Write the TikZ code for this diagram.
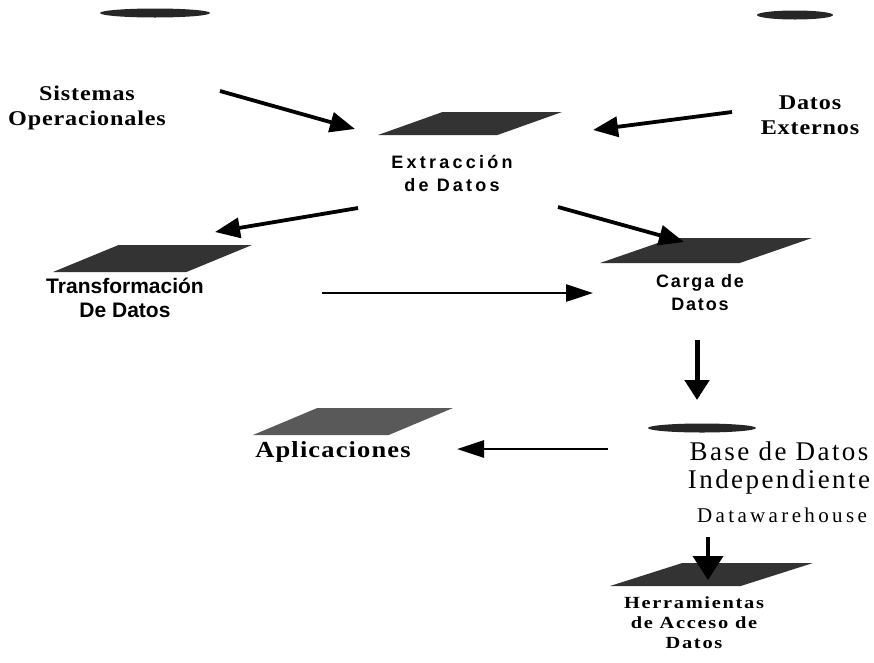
\documentclass[tikz,border=0pt]{standalone}
\usepackage{fontspec}
\setmainfont{Liberation Serif}
\newfontfamily\arialf{Liberation Sans}
\usetikzlibrary{shapes.geometric,arrows.meta}
\newcommand\lsp[1]{\addfontfeature{LetterSpace=#1}}
\newcommand\fst[1]{\addfontfeature{FakeStretch=#1}}
\begin{document}
\begin{tikzpicture}[x=1pt,y=-1pt,
  para/.style={trapezium, trapezium stretches=true, fill=black!80, inner sep=1pt, draw=none},
  blob/.style={ellipse, fill=black!85, inner sep=1pt, minimum height=9pt},
  arr/.style={line width=3.8pt, -{Triangle[length=25pt,width=20pt]}},
  arrthin/.style={line width=2.8pt, -{Triangle[length=27pt,width=17pt]}},
  arrdown/.style={line width=5pt, -{Triangle[length=20pt,width=24pt]}},
  sanslab/.style={align=center, inner sep=0pt, anchor=base},
  serlab/.style={font=\bfseries\fontsize{21}{25}\selectfont\fst{1.15}\lsp{4}, align=center, inner sep=0pt, anchor=base},
]
\useasboundingbox (0,0) rectangle (874,662);

% blobs
\node[blob, minimum width=110pt] (b1) at (155,13) {};
\node[blob, minimum width=76pt] (b2) at (795,15) {};
\node[blob, minimum width=108pt] (b3) at (702,428) {};

% parallelograms
\node[para, trapezium left angle=40.4, trapezium right angle=139.6, minimum width=184pt, minimum height=23pt] (ext) at (470,123.5) {};
\node[para, trapezium left angle=46, trapezium right angle=134, minimum width=199pt, minimum height=27pt] (tra) at (152.5,258.5) {};
\node[para, trapezium left angle=43, trapezium right angle=137, minimum width=212pt, minimum height=25pt] (car) at (706,250.5) {};
\node[para, fill=black!65, trapezium left angle=48, trapezium right angle=132, minimum width=200pt, minimum height=27pt] (apl) at (353,421.5) {};
\node[para, trapezium left angle=39, trapezium right angle=141, minimum width=203pt, minimum height=23pt] (her) at (711.5,574.5) {};

% labels (anchor base = baseline of last line)
\node[serlab] (sis) at (87,125) {Sistemas\\Operacionales};
\node[serlab] (dex) at (810,134) {Datos\\Externos};
\node[sanslab, font=\arialf\bfseries\fontsize{18}{23}\selectfont\lsp{18}] (extT) at (452,191) {Extracción\\de Datos};
\node[sanslab, font=\arialf\bfseries\fontsize{21}{24}\selectfont] (traT) at (125,317) {Transformación\\De Datos};
\node[sanslab, font=\arialf\bfseries\fontsize{18}{23}\selectfont\lsp{10}] (carT) at (700,310) {Carga de\\Datos};
\node[inner sep=0pt, align=center, anchor=base, font=\fontsize{27}{28}\selectfont\lsp{9}] (bdT) at (779,488) {Base de Datos\\Independiente};
\node[inner sep=0pt, anchor=base, font=\fontsize{21}{24}\selectfont\lsp{16}] (dwT) at (782,522) {Datawarehouse};
\node[inner sep=0pt, anchor=base, font=\bfseries\fontsize{23}{26}\selectfont\fst{1.15}\lsp{5}] (aplT) at (333,457) {Aplicaciones};
\node[inner sep=0pt, align=center, anchor=base, font=\bfseries\fontsize{17}{20}\selectfont\fst{1.2}\lsp{10}] (herT) at (694,648) {Herramientas\\de Acceso de\\Datos};

% arrow end points
\coordinate (a1s) at (220,91);  \coordinate (a1e) at (355,129);
\coordinate (a2s) at (732,112); \coordinate (a2e) at (593,130);
\coordinate (a3s) at (358,208); \coordinate (a3e) at (215,232);
\coordinate (a4s) at (558,207); \coordinate (a4e) at (684,242);
\coordinate (a5s) at (322,293); \coordinate (a5e) at (593,293);
\coordinate (a6s) at (697,340); \coordinate (a6e) at (697,400);
\coordinate (a7s) at (608,449); \coordinate (a7e) at (457,449);
\coordinate (a8s) at (708,537); \coordinate (a8e) at (708,580);

\draw[arr] (a1s) -- (a1e);
\draw[arr] (a2s) -- (a2e);
\draw[arr] (a3s) -- (a3e);
\draw[arr] (a4s) -- (a4e);
\draw[arrthin] (a5s) -- (a5e);
\draw[arrdown] (a6s) -- (a6e);
\draw[arrthin] (a7s) -- (a7e);
\draw[line width=4pt, -{Triangle[length=24pt,width=30pt]}] (a8s) -- (a8e);
\end{tikzpicture}
\end{document}
